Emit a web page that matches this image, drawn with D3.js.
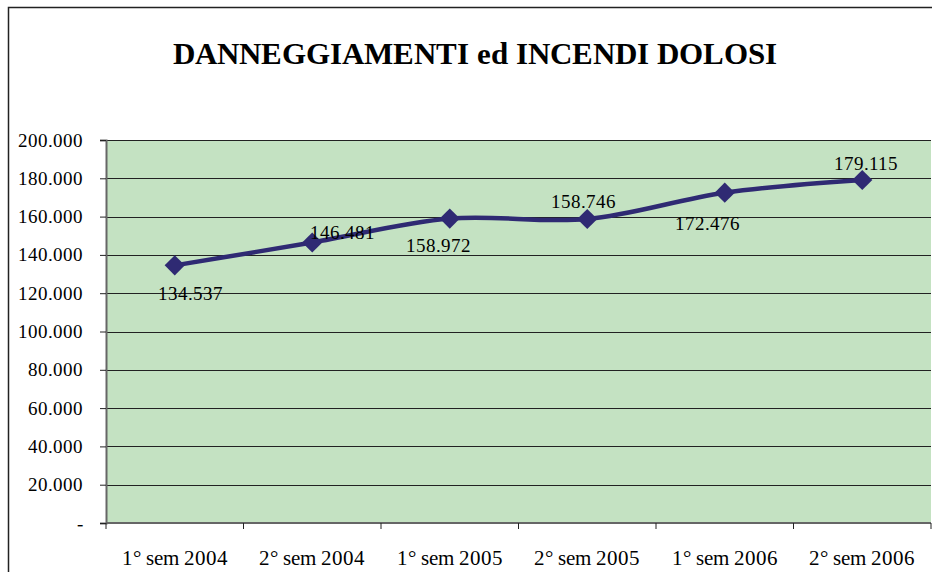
<!DOCTYPE html>
<html>
<head>
<meta charset="utf-8">
<script src="https://cdn.jsdelivr.net/npm/d3@7"></script>
<style>
  @font-face { font-family: "ChartSerif"; src: local("Liberation Serif"), local("LiberationSerif"); font-weight: normal; }
  @font-face { font-family: "ChartSerif"; src: local("Liberation Serif Bold"), local("LiberationSerif-Bold"); font-weight: bold; }
</style>
</head>
<body style="margin:0;background:#fff">
<div id="chart"></div>
<script>
const title = "DANNEGGIAMENTI ed INCENDI DOLOSI";
const categories = ["1° sem 2004", "2° sem 2004", "1° sem 2005", "2° sem 2005", "1° sem 2006", "2° sem 2006"];
const values = [134537, 146481, 158972, 158746, 172476, 179115];
const yTicks = [0, 20000, 40000, 60000, 80000, 100000, 120000, 140000, 160000, 180000, 200000];

// where Excel put each data label (dx, dy from the marker, text-anchor)
const labelPlace = [
    { dx: 16, dy: 35, anchor: "middle" },
    { dx: -2, dy: -3, anchor: "start" },
    { dx: -11, dy: 33, anchor: "middle" },
    { dx: -4, dy: -11, anchor: "middle" },
    { dx: -17, dy: 37, anchor: "middle" },
    { dx: 4, dy: -10, anchor: "middle" }
];

const W = 932, H = 572;
const margin = { top: 140, right: 1, bottom: 49, left: 106 };
const width = W - margin.left - margin.right;
const height = H - margin.top - margin.bottom;
const serif = "ChartSerif, 'Liberation Serif', serif";

const it = d3.formatLocale({ decimal: ",", thousands: ".", grouping: [3], currency: ["€", ""] });
const fmt = it.format(",.0f");
const fmtTick = d => d === 0 ? "-" : fmt(d);

const svg = d3.select("#chart").append("svg")
    .attr("width", W)
    .attr("height", H)
    .attr("font-family", serif);

// chart frame
svg.append("rect")
    .attr("x", 8.5).attr("y", 7.5)
    .attr("width", W).attr("height", H)
    .attr("fill", "none")
    .attr("stroke", "#222")
    .attr("stroke-width", 1.5);

svg.append("text")
    .attr("x", 475)
    .attr("y", 64)
    .attr("text-anchor", "middle")
    .attr("font-family", serif)
    .attr("font-size", 31)
    .attr("font-weight", "bold")
    .text(title);

const g = svg.append("g").attr("transform", `translate(${margin.left},${margin.top})`);

const x = d3.scaleBand().domain(categories).range([0, width]).padding(0);
const y = d3.scaleLinear().domain([0, 200000]).range([height, 0]);

g.append("rect")
    .attr("width", width).attr("height", height)
    .attr("fill", "#c4e2c2");

// gridlines
g.append("g")
    .selectAll("line")
    .data(yTicks.filter(d => d > 0))
    .join("line")
    .attr("x1", 0).attr("x2", width)
    .attr("y1", d => Math.round(y(d)) + 0.5)
    .attr("y2", d => Math.round(y(d)) + 0.5)
    .attr("stroke", "#222")
    .attr("stroke-width", 1);

// y axis
const yAxis = g.append("g")
    .call(d3.axisLeft(y).tickValues(yTicks).tickFormat(fmtTick).tickSize(6).tickPadding(17))
    .attr("font-family", serif)
    .attr("font-size", 19);
yAxis.select(".domain").attr("stroke", "#666").attr("stroke-width", 2);
yAxis.selectAll(".tick line").attr("stroke", "#222");
yAxis.selectAll("text").attr("fill", "#000");

// x axis with ticks on category boundaries
const xAxis = g.append("g").attr("transform", `translate(0,${height})`);
xAxis.append("line")
    .attr("x1", 0).attr("x2", width)
    .attr("stroke", "#666").attr("stroke-width", 2);
const bounds = categories.map(c => x(c)).concat([width]);
xAxis.selectAll("line.tk")
    .data(bounds)
    .join("line")
    .attr("class", "tk")
    .attr("x1", d => d).attr("x2", d => d)
    .attr("y1", 0).attr("y2", 6)
    .attr("stroke", "#222");
xAxis.selectAll("text")
    .data(categories)
    .join("text")
    .attr("x", d => x(d) + x.bandwidth() / 2)
    .attr("y", 42)
    .attr("text-anchor", "middle")
    .attr("font-family", serif)
    .attr("font-size", 20.5)
    .text(d => d);

// smoothed series line
const pts = values.map((v, i) => [x(categories[i]) + x.bandwidth() / 2, y(v)]);
g.append("path")
    .datum(pts)
    .attr("d", d3.line().curve(d3.curveCardinal.tension(0)))
    .attr("fill", "none")
    .attr("stroke", "#2f2a73")
    .attr("stroke-width", 4.5);

g.selectAll("path.marker")
    .data(pts)
    .join("path")
    .attr("class", "marker")
    .attr("transform", d => `translate(${d[0]},${d[1]})`)
    .attr("d", d3.symbol(d3.symbolDiamond2, 260))
    .attr("fill", "#2f2a73");

g.selectAll("text.lbl")
    .data(pts)
    .join("text")
    .attr("class", "lbl")
    .attr("x", (d, i) => d[0] + labelPlace[i].dx)
    .attr("y", (d, i) => d[1] + labelPlace[i].dy)
    .attr("text-anchor", (d, i) => labelPlace[i].anchor)
    .attr("font-family", serif)
    .attr("font-size", 19)
    .text((d, i) => fmt(values[i]));
</script>
</body>
</html>
